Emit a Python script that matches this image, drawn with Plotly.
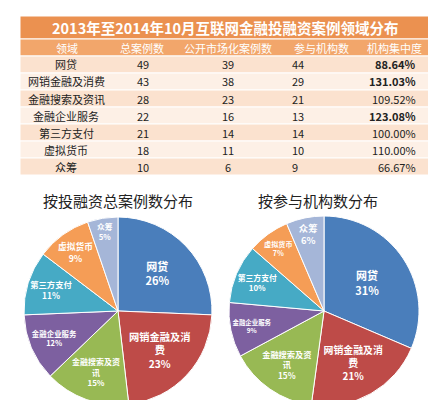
import plotly.graph_objects as go

categories = ["网贷", "网销金融及消费", "金融搜索及资讯", "金融企业服务", "第三方支付", "虚拟货币", "众筹"]
total_cases = [49, 43, 28, 22, 21, 18, 10]
public_cases = [39, 38, 23, 16, 14, 11, 6]
institutions = [44, 29, 21, 13, 14, 10, 9]
concentration = ["<b>88.64%</b>", "<b>131.03%</b>", "109.52%", "<b>123.08%</b>", "100.00%", "110.00%", "66.67%"]
headers = ["领域", "总案例数", "公开市场化案例数", "参与机构数", "机构集中度"]
pie_labels = ["网贷", "网销金融及消<br>费", "金融搜索及资<br>讯", "金融企业服务", "第三方支付", "虚拟货币", "众筹"]
colors = ["#4a7ebb", "#be4b48", "#98b954", "#7d60a0", "#46aac5", "#f59d56", "#a5b6d8"]

F = "Noto Sans CJK SC"
W, H = 436, 400
fig = go.Figure()

def px(x): return x / W
def py(y): return 1 - y / H

def rect(x0, x1, y0, y1, color):
    fig.add_shape(type="rect", xref="paper", yref="paper", x0=px(x0), x1=px(x1),
                  y0=py(y1), y1=py(y0), fillcolor=color, line=dict(color="white", width=1))

def text(t, x, y, size=11, color="#222", anchor="center"):
    fig.add_annotation(text=t, x=px(x), y=py(y), xref="paper", yref="paper", showarrow=False,
                       xanchor=anchor, yanchor="middle", font=dict(family=F, size=size, color=color))

cols = [12, 105, 163, 277, 350, 422]
rect(12, 422, 8, 31, "#eb9150")
text("<b>2013年至2014年10月互联网金融投融资案例领域分布</b>", 217, 19.5, size=14.5, color="white")
rect(12, 422, 31, 48, "#f2a66b")
for i, h in enumerate(headers):
    text(h, (cols[i] + cols[i + 1]) / 2, 39.5, size=11, color="white")
row_h = 17
table_cols = [categories, total_cases, public_cases, institutions, concentration]
for r in range(len(categories)):
    y0 = 48 + r * row_h
    rect(12, 422, y0, y0 + row_h, "#fbe2cf" if r % 2 == 0 else "#fdf0e6")
    yc = y0 + row_h / 2
    text(str(table_cols[0][r]), 58, yc)
    text(str(table_cols[1][r]), 127, yc, anchor="left")
    text(str(table_cols[2][r]), 220, yc)
    text(str(table_cols[3][r]), 282, yc, anchor="left")
    text(str(table_cols[4][r]), 410, yc, anchor="right")

for vals, dom in [(total_cases, [px(16), px(204)]), (institutions, [px(218), px(414)])]:
    fig.add_trace(go.Pie(values=vals, labels=categories, text=pie_labels, sort=False,
                         direction="clockwise", rotation=0,
                         marker=dict(colors=colors, line=dict(color="white", width=1)),
                         texttemplate="<b>%{text}<br>%{percent:.0%}</b>", textposition="inside",
                         insidetextorientation="horizontal",
                         textfont=dict(family=F, size=11, color="white"),
                         domain=dict(x=dom, y=[py(398), py(208)]), showlegend=False))

text("按投融资总案例数分布", 110, 192, size=15)
text("按参与机构数分布", 310, 192, size=15)

fig.update_layout(width=W, height=H, margin=dict(l=0, r=0, t=0, b=0),
                  paper_bgcolor="white", font=dict(family=F))
fig.write_html("out.html")
